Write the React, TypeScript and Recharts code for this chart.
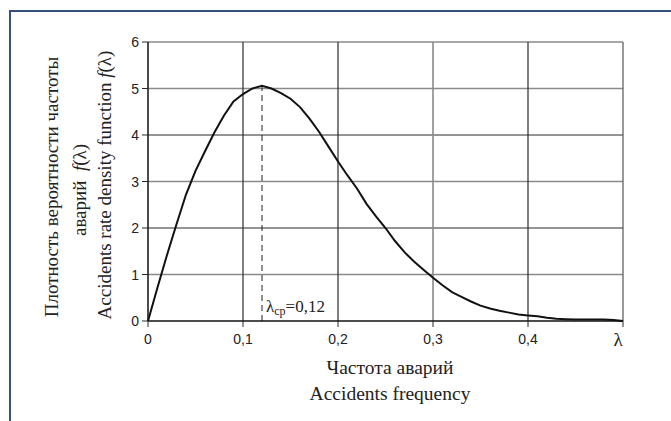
import React from 'react';
import { LineChart, Line, XAxis, YAxis, ReferenceLine } from 'recharts';

const lambdaValues = [0, 0.01, 0.02, 0.03, 0.04, 0.05, 0.06, 0.07, 0.08, 0.09, 0.1, 0.11, 0.12, 0.13, 0.14, 0.15, 0.16, 0.17, 0.18, 0.19, 0.2, 0.21, 0.22, 0.23, 0.24, 0.25, 0.26, 0.27, 0.28, 0.29, 0.3, 0.31, 0.32, 0.33, 0.34, 0.35, 0.36, 0.37, 0.38, 0.39, 0.4, 0.41, 0.42, 0.43, 0.44, 0.45, 0.46, 0.47, 0.48, 0.49, 0.5];
const densityValues = [0, 0.72, 1.42, 2.08, 2.72, 3.23, 3.65, 4.06, 4.42, 4.72, 4.88, 5.0, 5.06, 5.0, 4.9, 4.78, 4.6, 4.35, 4.07, 3.75, 3.43, 3.13, 2.85, 2.52, 2.25, 2.0, 1.72, 1.48, 1.28, 1.1, 0.93, 0.77, 0.62, 0.52, 0.42, 0.33, 0.27, 0.22, 0.18, 0.14, 0.12, 0.1, 0.07, 0.05, 0.04, 0.03, 0.03, 0.03, 0.03, 0.02, 0];
const xTicks = [0, 0.1, 0.2, 0.3, 0.4, 0.5];
const yTicks = [0, 1, 2, 3, 4, 5, 6];
const meanLambda = 0.12;
const meanDensity = 5.06;
const meanLabel = '=0,12';

const data = lambdaValues.map((l, i) => ({ l, f: densityValues[i] }));

const GRAY = '#8a8a8a';
const DARK = '#2a2a2a';
const hGrid: Record<number, string> = { 1: GRAY, 2: DARK, 3: GRAY, 4: DARK, 5: GRAY, 6: GRAY };
const vGrid: Record<number, string> = { 0.1: DARK, 0.2: DARK, 0.3: GRAY, 0.4: DARK, 0.5: '#555' };

const SERIF = '"Liberation Serif", "DejaVu Serif", serif';
const SANS = '"Liberation Sans", Arial, sans-serif';

const XTick = (props: any) => {
  const { x, y, payload } = props;
  const v = payload.value;
  if (v === 0.5) {
    return (
      <text x={x - 5} y={y + 17} textAnchor="middle" fontFamily={SERIF} fontSize={19} fill="#222">λ</text>
    );
  }
  return (
    <text x={x} y={y + 15} textAnchor="middle" fontFamily={SANS} fontSize={14} fill="#222">
      {String(v).replace('.', ',')}
    </text>
  );
};

const YTick = (props: any) => {
  const { x, y, payload } = props;
  return (
    <text x={x - 1} y={y + 5} textAnchor="end" fontFamily={SANS} fontSize={14} fill="#222">
      {payload.value}
    </text>
  );
};

const tStyle = { fontFamily: SERIF, fontSize: 19.5, fill: '#222' };

const XTitle = () => (
  <g>
    <text x={390} y={374} textAnchor="middle" style={tStyle}>Частота аварий</text>
    <text x={390} y={400} textAnchor="middle" style={tStyle}>Accidents frequency</text>
  </g>
);

const yStyle = { fontFamily: SERIF, fontSize: 19, fill: '#222' };

const YTitle = () => (
  <g>
    <text transform="translate(58,187) rotate(-90)" textAnchor="middle" style={yStyle}>Плотность вероятности частоты</text>
    <text transform="translate(86,190) rotate(-90)" textAnchor="middle" style={yStyle}>
      аварий{'\u00a0\u00a0'}<tspan fontStyle="italic">f</tspan>(λ)
    </text>
    <text transform="translate(111,185) rotate(-90)" textAnchor="middle" style={yStyle}>
      Accidents rate density function <tspan fontStyle="italic">f</tspan>(λ)
    </text>
  </g>
);

const MeanLabel = () => (
  <text x={266} y={312} style={{ fontFamily: SERIF, fontSize: 17, fill: '#222' }}>
    λ<tspan fontSize={12} dy={3}>ср</tspan><tspan dy={-3}>{meanLabel}</tspan>
  </text>
);

export default function App() {
  return (
    <div style={{ position: 'absolute', left: 0, top: 0, width: 671, height: 421, background: '#fff' }}>
      <div style={{ position: 'absolute', left: 9, top: 10, width: 662, height: 411, borderTop: '2px solid #35507a', borderLeft: '2px solid #35507a' }} />
      <div style={{ position: 'absolute', left: 0, top: 0 }}>
        <LineChart width={671} height={421} data={data} margin={{ top: 42, right: 48, bottom: 70, left: 88 }}>
          <XAxis
            dataKey="l"
            type="number"
            domain={[0, 0.5]}
            ticks={xTicks}
            tick={<XTick />}
            tickSize={6}
            tickLine={{ stroke: DARK }}
            axisLine={{ stroke: '#111', strokeWidth: 1.5 }}
            height={30}
            label={<XTitle />}
          />
          <YAxis
            type="number"
            domain={[0, 6]}
            ticks={yTicks}
            tick={<YTick />}
            tickSize={6}
            tickLine={{ stroke: DARK }}
            axisLine={{ stroke: '#111', strokeWidth: 1.5 }}
            width={60}
            label={<YTitle />}
          />
          {yTicks.filter((t) => t > 0).map((t) => (
            <ReferenceLine key={'h' + t} y={t} stroke={hGrid[t]} strokeWidth={hGrid[t] === GRAY ? 1.6 : 1} />
          ))}
          {xTicks.filter((t) => t > 0).map((t) => (
            <ReferenceLine key={'v' + t} x={t} stroke={vGrid[t]} strokeWidth={vGrid[t] === GRAY ? 1.6 : 1.2} />
          ))}
          <ReferenceLine
            segment={[{ x: meanLambda, y: 0 }, { x: meanLambda, y: meanDensity }]}
            stroke="#222"
            strokeDasharray="6 4"
            label={<MeanLabel />}
          />
          <Line
            dataKey="f"
            type="linear"
            stroke="#111"
            strokeWidth={2}
            dot={false}
            isAnimationActive={false}
          />
        </LineChart>
      </div>
    </div>
  );
}
